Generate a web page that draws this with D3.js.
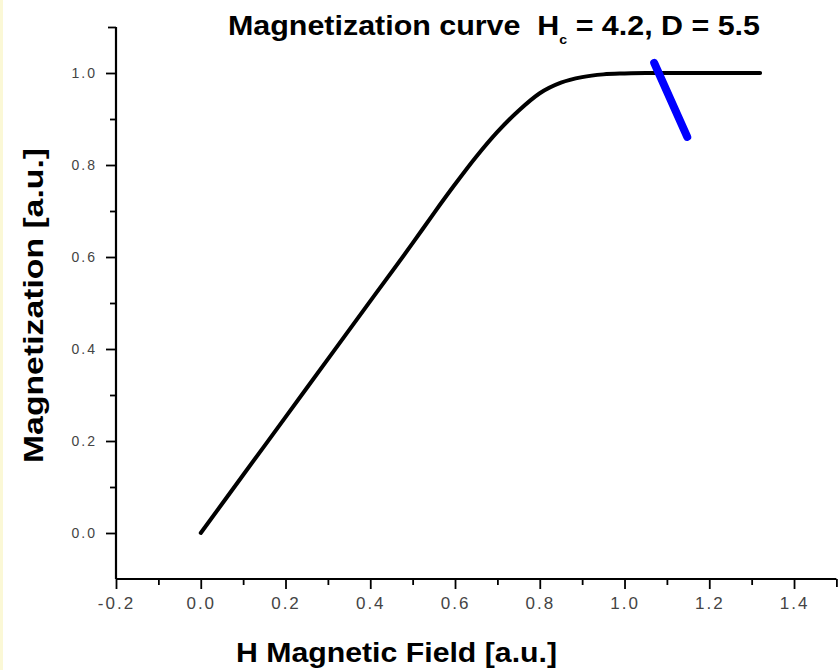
<!DOCTYPE html>
<html>
<head>
<meta charset="utf-8">
<script src="https://cdn.jsdelivr.net/npm/d3@7"></script>
<style>
  html, body { margin: 0; padding: 0; background: #ffffff; }
  svg { display: block; }
</style>
</head>
<body>
<svg id="chart" width="840" height="670"></svg>
<script>
// Magnetization curve: field H versus magnetization M
const fieldH = [0, 0.1, 0.2, 0.3, 0.4, 0.5, 0.55, 0.6, 0.65, 0.7, 0.75, 0.8, 0.85, 0.9, 0.95, 1.0, 1.05, 1.1, 1.2, 1.32];
const magnetM = [0, 0.126, 0.252, 0.378, 0.504, 0.630, 0.695, 0.758, 0.818, 0.872, 0.918, 0.956, 0.979, 0.991, 0.997, 0.999, 1.0, 1.0, 1.0, 1.0];

// Short blue marker segment near saturation
const markerH = [1.07, 1.148];
const markerM = [1.022, 0.861];

// Axis ticks
const xMajorTicks = [-0.2, 0.0, 0.2, 0.4, 0.6, 0.8, 1.0, 1.2, 1.4];
const xMinorTicks = [-0.1, 0.1, 0.3, 0.5, 0.7, 0.9, 1.1, 1.3];
const yMajorTicks = [0.0, 0.2, 0.4, 0.6, 0.8, 1.0];
const yMinorTicks = [0.1, 0.3, 0.5, 0.7, 0.9];

const svg = d3.select("#chart");
const boldFont = "'Liberation Sans Narrow', 'Arial Narrow', 'Liberation Sans', Arial, sans-serif";
const tickFont = "'Liberation Sans', Arial, sans-serif";
const fmt = d => d3.format(".1f")(d).replace("\u2212", "-");

// thin pale border on the left edge
svg.append("rect").attr("x", 0).attr("y", 0).attr("width", 3).attr("height", 670)
  .attr("fill", "#fbf8d6");

const x = d3.scaleLinear().domain([-0.2, 1.5]).range([116, 836.4]);
const y = d3.scaleLinear().domain([-0.1, 1.1]).range([579, 27]);

// X axis
const xAxis = svg.append("g").attr("transform", `translate(0,${y(-0.1)})`);
xAxis.call(d3.axisBottom(x).tickValues(xMajorTicks).tickSize(10).tickPadding(8).tickFormat(fmt));
xAxis.append("g").call(d3.axisBottom(x).tickValues(xMinorTicks).tickSize(6).tickFormat(""));
xAxis.append("g").call(d3.axisBottom(x).tickValues([1.5]).tickSize(8).tickFormat(""));
xAxis.selectAll(".domain").remove();
xAxis.append("line").attr("x1", x(-0.2)).attr("x2", x(1.5)).attr("y1", 0).attr("y2", 0)
  .attr("stroke", "#000").attr("stroke-width", 2.2);
xAxis.selectAll(".tick line").attr("stroke", "#000").attr("stroke-width", 1.8);
xAxis.selectAll(".tick text")
  .style("font-family", tickFont).style("font-size", "17px")
  .style("letter-spacing", "2px").attr("fill", "#444");

// Y axis
const yAxis = svg.append("g").attr("transform", `translate(${x(-0.2)},0)`);
yAxis.call(d3.axisLeft(y).tickValues(yMajorTicks).tickSize(10).tickPadding(9).tickFormat(fmt));
yAxis.append("g").call(d3.axisLeft(y).tickValues(yMinorTicks).tickSize(6).tickFormat(""));
yAxis.append("g").call(d3.axisLeft(y).tickValues([1.1]).tickSize(8).tickFormat(""));
yAxis.selectAll(".domain").remove();
yAxis.append("line").attr("x1", 0).attr("x2", 0).attr("y1", y(1.1)).attr("y2", y(-0.1))
  .attr("stroke", "#000").attr("stroke-width", 2.2);
yAxis.selectAll(".tick line").attr("stroke", "#000").attr("stroke-width", 1.8);
yAxis.selectAll(".tick text")
  .style("font-family", tickFont).style("font-size", "14px")
  .style("letter-spacing", "2px").attr("fill", "#444");

// Curve
const curveData = fieldH.map((h, i) => ({ h, m: magnetM[i] }));
const line = d3.line().x(d => x(d.h)).y(d => y(d.m)).curve(d3.curveMonotoneX);
svg.append("path").datum(curveData).attr("d", line)
  .attr("fill", "none").attr("stroke", "#000").attr("stroke-width", 4)
  .attr("stroke-linejoin", "round").attr("stroke-linecap", "round");

// Blue marker
const markerData = markerH.map((h, i) => ({ h, m: markerM[i] }));
svg.append("path").datum(markerData).attr("d", d3.line().x(d => x(d.h)).y(d => y(d.m)))
  .attr("fill", "none").attr("stroke", "#0000ff").attr("stroke-width", 8)
  .attr("stroke-linecap", "round");

// Title
const title = svg.append("text").attr("x", 228).attr("y", 35)
  .attr("font-family", boldFont).attr("font-weight", "bold").attr("font-size", 28)
  .attr("fill", "#000").style("white-space", "pre")
  .attr("textLength", 532).attr("lengthAdjust", "spacingAndGlyphs");
title.append("tspan").text("Magnetization curve  H");
title.append("tspan").attr("font-size", 13).attr("dy", 9).text("c");
title.append("tspan").attr("dy", -9).text(" = 4.2, D = 5.5");

// Axis titles
svg.append("text").attr("x", 236).attr("y", 662)
  .attr("font-family", boldFont).attr("font-weight", "bold").attr("font-size", 28)
  .attr("fill", "#000").attr("textLength", 321).attr("lengthAdjust", "spacingAndGlyphs")
  .text("H Magnetic Field [a.u.]");

svg.append("text").attr("transform", "translate(43,463) rotate(-90)")
  .attr("font-family", boldFont).attr("font-weight", "bold").attr("font-size", 28)
  .attr("fill", "#000").attr("textLength", 315).attr("lengthAdjust", "spacingAndGlyphs")
  .text("Magnetization [a.u.]");
</script>
</body>
</html>
